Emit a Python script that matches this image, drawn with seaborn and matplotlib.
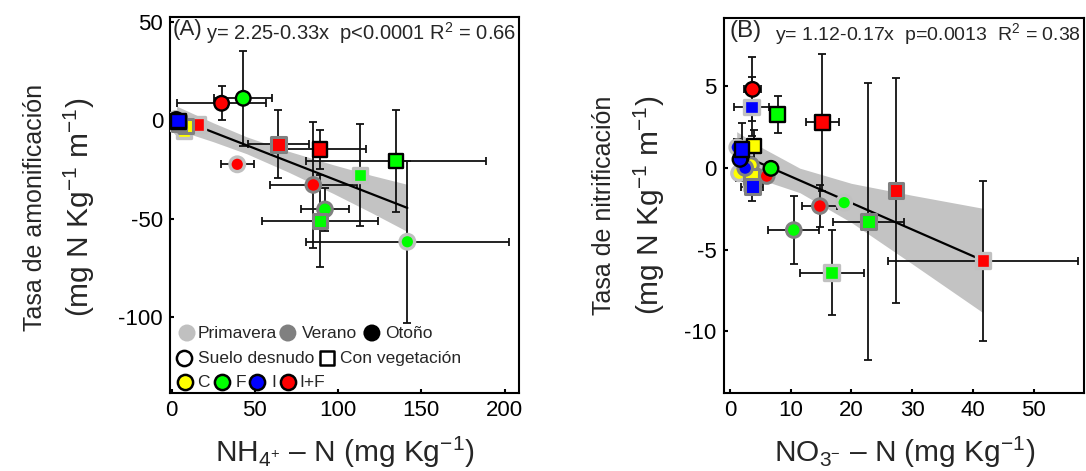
import numpy as np
import pandas as pd
import matplotlib
matplotlib.use("Agg")
import matplotlib.pyplot as plt
import seaborn as sns

# ---------------- Panel A data (NH4+ vs amonificación) ----------------
a_treat  = ["C", "C", "C", "C", "C", "C",
            "I", "I", "I", "I", "I", "I",
            "F", "F", "F", "F", "F", "F",
            "I+F", "I+F", "I+F", "I+F", "I+F", "I+F"]
a_season = ["Primavera", "Primavera", "Verano", "Verano", "Otoño", "Otoño",
            "Primavera", "Primavera", "Verano", "Verano", "Otoño", "Otoño",
            "Otoño", "Otoño", "Primavera", "Verano", "Verano", "Primavera",
            "Otoño", "Primavera", "Verano", "Otoño", "Verano", "Primavera"]
a_cover  = ["bare", "veg", "bare", "veg", "bare", "veg",
            "bare", "veg", "bare", "veg", "bare", "veg",
            "bare", "veg", "veg", "bare", "veg", "bare",
            "bare", "veg", "veg", "veg", "bare", "bare"]
a_x    = [6.0, 7.4, 5.5, 8.5, 2.8, 4.2,
          2.5, 3.5, 3.0, 4.5, 2.8, 4.0,
          43.0, 134.8, 113.2, 92.1, 89.1, 141.6,
          30.0, 15.6, 64.1, 89.1, 85.1, 39.4]
a_y    = [-4.0, -5.3, -2.5, -2.8, 0.0, -0.8,
          0.8, -1.0, -0.5, -1.5, 0.5, -0.3,
          11.3, -20.6, -27.7, -45.2, -51.1, -61.7,
          8.75, -1.9, -12.1, -14.7, -32.8, -22.3]
a_xerr = [1.0, 1.0, 1.0, 1.0, 1.0, 1.0,
          1.0, 1.0, 1.0, 1.0, 1.0, 1.0,
          17.5, 54.0, 3.0, 14.2, 35.0, 60.8,
          26.5, 1.5, 18.3, 27.5, 26.0, 9.8]
a_yerr = [1.0, 1.0, 1.0, 1.0, 1.0, 1.0,
          1.0, 1.0, 1.0, 1.0, 1.0, 1.5,
          24.2, 26.1, 25.9, 10.8, 23.3, 41.2,
          8.7, 1.5, 17.3, 10.0, 32.0, 2.0]
a_line_x = [3.0, 141.6]
a_line_y = [1.26, -44.48]
a_band_x  = [3, 25, 45, 70, 97, 120, 141.6]
a_band_hi = [7.3, -1.2, -8.3, -15.6, -22.5, -27.9, -32.5]
a_band_lo = [-4.7, -10.8, -16.9, -26.2, -37.1, -46.9, -56.5]

# ---------------- Panel B data (NO3- vs nitrificación) ----------------
b_treat  = ["C", "C", "C", "C", "C", "C",
            "I", "I", "I", "I", "I", "I",
            "F", "F", "F", "F", "F", "F",
            "I+F", "I+F", "I+F", "I+F", "I+F", "I+F"]
b_season = ["Primavera", "Primavera", "Verano", "Verano", "Otoño", "Otoño",
            "Primavera", "Primavera", "Verano", "Verano", "Otoño", "Otoño",
            "Otoño", "Otoño", "Primavera", "Verano", "Verano", "Primavera",
            "Otoño", "Otoño", "Verano", "Verano", "Verano", "Primavera"]
b_cover  = ["bare", "veg", "bare", "veg", "bare", "veg",
            "bare", "veg", "bare", "veg", "bare", "veg",
            "bare", "veg", "bare", "bare", "veg", "veg",
            "bare", "veg", "bare", "bare", "veg", "veg"]
b_x    = [1.5, 3.5, 3.45, 3.57, 1.8, 3.95,
          1.2, 3.57, 2.5, 3.67, 1.65, 2.0,
          6.75, 7.86, 18.8, 10.5, 22.8, 16.75,
          3.7, 15.2, 6.05, 14.8, 27.35, 41.7]
b_y    = [-0.32, -0.9, 0.18, -0.53, 0.6, 1.35,
          1.27, 3.75, 0.0, -1.14, 0.53, 1.15,
          -0.02, 3.29, -2.12, -3.8, -3.29, -6.41,
          4.82, 2.8, -0.49, -2.33, -1.39, -5.67]
b_xerr = [0.5, 0.5, 0.5, 0.5, 0.5, 0.5,
          0.5, 2.9, 0.5, 1.8, 0.5, 0.5,
          0.5, 0.5, 0.5, 4.2, 5.8, 5.3,
          1.45, 2.7, 0.5, 2.9, 1.2, 15.6]
b_yerr = [0.5, 0.5, 0.5, 0.5, 0.5, 0.95,
          0.5, 1.8, 0.5, 0.9, 0.5, 1.6,
          0.3, 1.15, 0.2, 2.06, 8.47, 2.6,
          1.96, 4.2, 0.3, 1.3, 6.9, 4.9]
b_line_x = [1.1, 41.7]
b_line_y = [0.93, -5.67]
b_band_x  = [1.1, 5, 11.5, 20, 30, 41.7]
b_band_hi = [2.23, 1.30, -0.01, -0.94, -1.67, -2.47]
b_band_lo = [-0.37, -0.70, -1.51, -3.34, -5.87, -8.87]

treat_colors = {"C": "#ffff00", "F": "#00ff00", "I": "#0000ff", "I+F": "#ff0000"}
season_edge = {"Primavera": "#c0c0c0", "Verano": "#808080", "Otoño": "#000000"}
season_lw = {"Primavera": 2.4, "Verano": 2.2, "Otoño": 1.7}
season_order = ["Primavera", "Verano", "Otoño"]

sns.set_theme(style="white")
plt.rcParams["font.family"] = ["Liberation Sans", "DejaVu Sans"]
plt.rcParams["mathtext.fontset"] = "custom"
plt.rcParams["mathtext.rm"] = "Liberation Sans"
plt.rcParams["mathtext.it"] = "Liberation Sans:italic"
plt.rcParams["mathtext.bf"] = "Liberation Sans:bold"
plt.rcParams["axes.unicode_minus"] = False

W, H = 1086, 471
fig = plt.figure(figsize=(W / 100, H / 100), dpi=100)


def px_axes(l, r, t, b):
    return fig.add_axes([l / W, 1 - b / H, (r - l) / W, (b - t) / H])


axA = px_axes(170, 518.7, 17.3, 392.7)
axB = px_axes(723.5, 1084, 18, 393.3)


def draw_panel(ax, treat, season, cover, x, y, xerr, yerr, lx, ly, bx, blo, bhi):
    df = pd.DataFrame({"treat": treat, "season": season, "cover": cover,
                       "x": x, "y": y, "xerr": xerr, "yerr": yerr})
    ax.fill_between(bx, blo, bhi, color="#c3c3c3", lw=0, zorder=1)
    sns.lineplot(x=lx, y=ly, color="black", lw=1.6, ax=ax, zorder=2.5)
    ax.errorbar(df["x"], df["y"], xerr=df["xerr"], yerr=df["yerr"], fmt="none",
                ecolor="#111111", elinewidth=1.3, capsize=3, capthick=1.3, zorder=2)
    for s in season_order:
        sub = df[df["season"] == s]
        sns.scatterplot(data=sub, x="x", y="y", hue="treat", palette=treat_colors,
                        style="cover", markers={"bare": "o", "veg": "s"},
                        s=110, edgecolor=season_edge[s], linewidth=season_lw[s],
                        legend=False, ax=ax, zorder=3)
    ax.set_xlabel("")
    ax.set_ylabel("")
    for sp in ax.spines.values():
        sp.set_color("black")
        sp.set_linewidth(1.5)
    ax.tick_params(direction="in", length=3, width=1.5, labelsize=16, pad=5,
                   bottom=True, left=True, colors="black")


draw_panel(axA, a_treat, a_season, a_cover, a_x, a_y, a_xerr, a_yerr,
           a_line_x, a_line_y, a_band_x, a_band_lo, a_band_hi)
axA.set_xlim(-1, 208.5)
axA.set_ylim(-138.5, 52.5)
axA.set_xticks([0, 50, 100, 150, 200])
axA.set_yticks([-100, -50, 0, 50])

draw_panel(axB, b_treat, b_season, b_cover, b_x, b_y, b_xerr, b_yerr,
           b_line_x, b_line_y, b_band_x, b_band_lo, b_band_hi)
axB.set_xlim(-1.07, 58.3)
axB.set_ylim(-13.8, 9.19)
axB.set_xticks([0, 10, 20, 30, 40, 50])
axB.set_yticks([-10, -5, 0, 5])

# Panel annotations
axA.text(0.008, 0.996, "(A)", transform=axA.transAxes, fontsize=16, va="top", ha="left")
axA.text(0.993, 0.992, r"y= 2.25-0.33x  p<0.0001 R$^2$ = 0.66", transform=axA.transAxes,
         fontsize=14.5, va="top", ha="right")
axB.text(0.018, 0.994, "(B)", transform=axB.transAxes, fontsize=17.5, va="top", ha="left")
axB.text(0.993, 0.992, r"y= 1.12-0.17x  p=0.0013  R$^2$ = 0.38", transform=axB.transAxes,
         fontsize=14, va="top", ha="right")

# Legend (panel A), drawn manually
leg_fs = 12.5
T = axA.transAxes
r1, r2, r3 = 0.159, 0.0924, 0.0285
for cx, tx, col, lab in [(0.0488, 0.080, "#c0c0c0", "Primavera"),
                         (0.338, 0.3786, "#808080", "Verano"),
                         (0.579, 0.6166, "#000000", "Otoño")]:
    axA.scatter([cx], [r1], s=150, color=col, edgecolor="none", transform=T, clip_on=False, zorder=5)
    axA.text(tx, r1, lab, transform=T, fontsize=leg_fs, va="center", ha="left")
axA.scatter([0.040], [r2], s=120, facecolor="white", edgecolor="black", linewidth=1.8,
            transform=T, clip_on=False, zorder=5)
axA.text(0.080, r2, "Suelo desnudo", transform=T, fontsize=leg_fs, va="center", ha="left")
axA.scatter([0.450], [r2], s=110, marker="s", facecolor="white", edgecolor="black", linewidth=1.8,
            transform=T, clip_on=False, zorder=5)
axA.text(0.4875, r2, "Con vegetación", transform=T, fontsize=leg_fs, va="center", ha="left")
for cx, tx, key in [(0.043, 0.0774, "C"), (0.149, 0.189, "F"),
                    (0.2495, 0.2897, "I"), (0.338, 0.370, "I+F")]:
    axA.scatter([cx], [r3], s=120, color=treat_colors[key], edgecolor="black", linewidth=1.8,
                transform=T, clip_on=False, zorder=5)
    axA.text(tx, r3, key, transform=T, fontsize=leg_fs, va="center", ha="left")

# Axis labels
lab_fs = 18
fig.text(35 / W, 1 - 207 / H, "Tasa de amonificación", rotation=90, fontsize=lab_fs,
         ha="center", va="center")
fig.text(79 / W, 1 - 207 / H, r"(mg N Kg$^{-1}$ m$^{-1}$)", rotation=90, fontsize=21.5,
         ha="center", va="center")
fig.text(604 / W, 1 - 205 / H, "Tasa de nitrificación", rotation=90, fontsize=lab_fs,
         ha="center", va="center")
fig.text(649 / W, 1 - 205 / H, r"(mg N Kg$^{-1}$ m$^{-1}$)", rotation=90, fontsize=21.5,
         ha="center", va="center")
fig.text(345 / W, 1 - 452 / H, r"NH$_{4^{+}}$ – N (mg Kg$^{-1}$)", fontsize=21.5,
         ha="center", va="center")
fig.text(905 / W, 1 - 452 / H, r"NO$_{3^{-}}$ – N (mg Kg$^{-1}$)", fontsize=21.5,
         ha="center", va="center")

fig.savefig("out.png", dpi=100)
